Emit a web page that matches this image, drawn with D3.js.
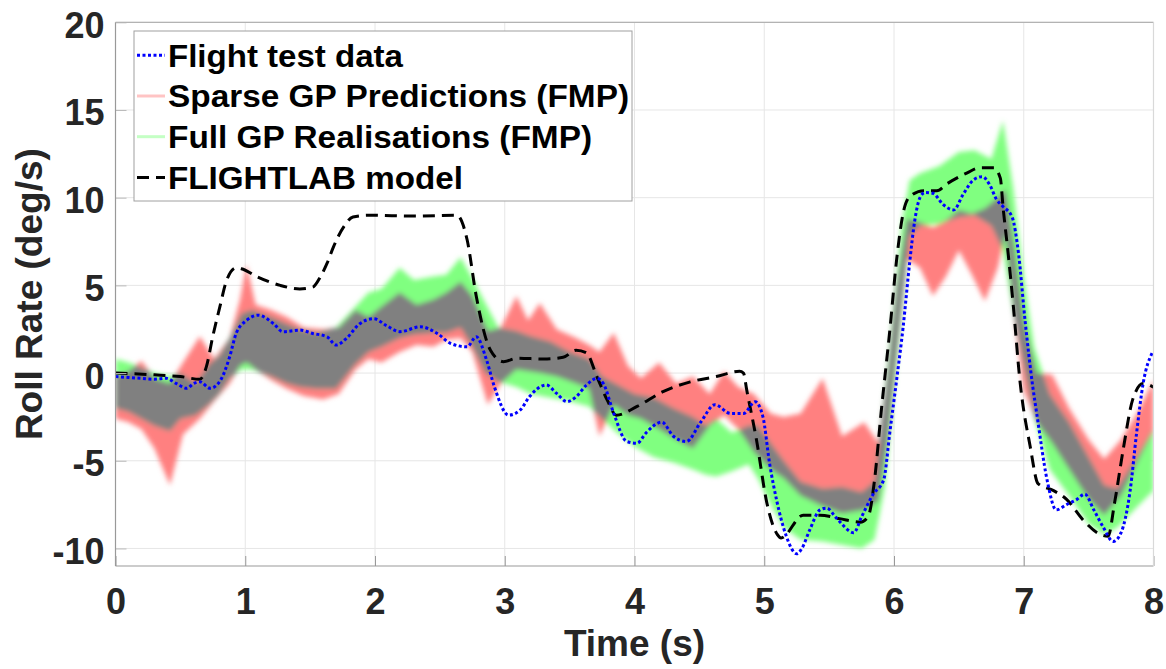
<!DOCTYPE html>
<html>
<head>
<meta charset="utf-8">
<script src="https://cdn.jsdelivr.net/npm/d3@7"></script>
<style>
  body { margin: 0; background: #fff; }
  svg { display: block; }
</style>
</head>
<body>
<svg id="chart" width="1166" height="669"></svg>
<script>
// ---- data -------------------------------------------------------------
const timeTicks = [0, 1, 2, 3, 4, 5, 6, 7, 8];
const rateTicks = [-10, -5, 0, 5, 10, 15, 20];

const legendLabels = [
  "Flight test data",
  "Sparse GP Predictions (FMP)",
  "Full GP Realisations (FMP)",
  "FLIGHTLAB model"
];

// flight test roll rate [time s, deg/s]
const flightTest = [
  [0.00,-0.2],[0.10,-0.25],[0.20,-0.3],[0.30,-0.35],[0.39,-0.3],[0.47,-0.6],[0.55,-0.87],
  [0.60,-0.6],[0.65,-0.5],[0.73,-0.87],[0.81,-0.4],[0.88,0.93],[0.93,2.26],[1.01,3.0],
  [1.10,3.3],[1.22,2.8],[1.29,2.36],[1.42,2.45],[1.52,2.26],[1.63,2.07],[1.70,1.6],
  [1.78,1.98],[1.88,2.8],[1.99,3.1],[2.09,2.7],[2.19,2.36],[2.35,2.64],[2.48,2.26],
  [2.58,1.7],[2.71,1.5],[2.78,2.07],[2.86,0.74],[2.92,-0.78],[3.03,-2.4],[3.12,-2.1],
  [3.19,-1.35],[3.32,-0.68],[3.40,-1.16],[3.48,-1.63],[3.55,-1.35],[3.63,-0.68],[3.71,-0.3],
  [3.76,-0.6],[3.84,-2.3],[3.94,-3.9],[4.02,-4.0],[4.09,-3.4],[4.21,-2.8],[4.30,-3.6],
  [4.40,-3.9],[4.51,-2.8],[4.62,-1.8],[4.74,-2.3],[4.84,-2.3],[4.93,-1.63],[4.99,-2.5],
  [5.04,-5.1],[5.10,-7.4],[5.17,-9.3],[5.25,-10.3],[5.29,-10.0],[5.35,-8.95],[5.43,-7.8],
  [5.48,-7.7],[5.56,-8.3],[5.69,-9.1],[5.75,-8.2],[5.84,-6.9],[5.92,-6.1],[5.97,-3.25],
  [6.02,-0.4],[6.07,2.6],[6.12,6.25],[6.16,8.7],[6.20,10.0],[6.24,10.3],[6.30,10.25],
  [6.38,9.6],[6.46,9.3],[6.53,10.15],[6.61,11.0],[6.68,11.2],[6.74,10.7],[6.79,9.9],
  [6.84,9.5],[6.91,8.9],[6.96,6.8],[7.01,3.0],[7.07,-0.8],[7.10,-2.3],[7.18,-6.1],
  [7.25,-7.8],[7.33,-7.5],[7.41,-7.2],[7.47,-6.9],[7.54,-7.8],[7.61,-8.75],[7.69,-9.6],
  [7.75,-9.1],[7.82,-6.7],[7.87,-3.4],[7.92,-0.6],[7.99,1.15]
];

// FLIGHTLAB simulation [time s, deg/s]
const flightlabModel = [
  [0.00,0.0],[0.30,-0.1],[0.50,-0.2],[0.65,-0.35],[0.70,0.35],[0.75,2.1],[0.805,3.8],
  [0.857,5.3],[0.93,6.0],[0.97,5.95],[1.09,5.5],[1.27,5.0],[1.42,4.8],[1.52,4.9],
  [1.58,5.5],[1.63,6.25],[1.68,7.2],[1.76,8.35],[1.83,8.9],[1.95,9.0],[2.30,8.95],
  [2.63,9.0],[2.71,7.6],[2.78,4.4],[2.89,1.3],[2.99,0.65],[3.10,0.85],[3.30,0.8],
  [3.45,0.9],[3.55,1.3],[3.63,1.15],[3.71,-0.2],[3.79,-1.54],[3.86,-2.4],[4.02,-1.9],
  [4.22,-1.06],[4.43,-0.5],[4.63,-0.2],[4.81,0.1],[4.84,0.0],[4.865,-0.97],[4.94,-3.8],
  [5.02,-7.4],[5.10,-9.2],[5.13,-9.4],[5.30,-8.1],[5.43,-8.1],[5.58,-8.3],[5.74,-8.5],
  [5.80,-8.2],[5.85,-6.1],[5.90,-2.3],[5.97,2.6],[6.02,6.45],[6.07,9.1],[6.12,10.05],
  [6.23,10.4],[6.33,10.4],[6.41,10.8],[6.56,11.4],[6.66,11.7],[6.77,11.7],[6.82,11.1],
  [6.84,9.5],[6.88,6.8],[6.92,3.8],[6.97,-0.4],[7.05,-4.2],[7.11,-6.3],[7.23,-6.7],
  [7.33,-7.2],[7.46,-8.4],[7.59,-9.2],[7.65,-9.3],[7.70,-7.4],[7.77,-4.2],[7.84,-1.5],
  [7.92,-0.6],[8.00,-0.8]
];

// sparse GP prediction envelope [time s, lower, upper]
const sparseGP = [
  [0.00,-2.6,-0.2],[0.10,-2.8,0.1],[0.20,-3.2,0.7],[0.30,-4.3,-0.3],[0.42,-6.4,-0.6],
  [0.52,-3.5,0.6],[0.65,-2.6,2.1],[0.76,-1.6,0.8],[0.88,-0.6,2.0],[0.96,0.4,4.2],
  [1.01,0.6,6.2],[1.08,0.2,3.9],[1.20,-0.4,3.6],[1.32,-0.9,3.2],[1.45,-1.3,2.6],
  [1.60,-1.5,2.5],[1.72,-1.2,2.6],[1.85,0.2,3.6],[1.95,0.8,3.2],[2.05,0.6,3.8],
  [2.19,1.2,4.6],[2.32,1.6,3.9],[2.45,1.5,4.2],[2.55,1.9,4.6],[2.66,2.0,5.2],
  [2.75,1.2,4.4],[2.87,-1.8,2.4],[2.97,-0.6,2.6],[3.09,0.2,4.4],[3.18,0.1,3.0],
  [3.27,0.0,4.0],[3.40,-0.2,2.5],[3.55,-0.6,2.0],[3.65,-0.9,1.6],[3.73,-3.6,1.2],
  [3.84,-1.8,2.3],[3.95,-2.4,0.4],[4.05,-2.6,-0.3],[4.19,-3.2,0.6],[4.32,-3.8,-0.6],
  [4.45,-4.3,-0.2],[4.58,-3.0,-1.2],[4.69,-2.4,0.1],[4.80,-3.2,-0.8],[4.92,-4.5,-1.2],
  [5.05,-5.5,-2.3],[5.15,-6.0,-2.5],[5.28,-7.0,-2.3],[5.45,-7.6,-0.3],[5.60,-8.0,-3.6],
  [5.77,-7.8,-2.8],[5.88,-7.3,-4.0],[5.95,-4.0,0.0],[6.02,1.0,5.0],[6.10,6.5,8.8],
  [6.20,6.0,8.6],[6.30,4.4,8.3],[6.40,5.5,8.7],[6.50,7.0,9.3],[6.60,5.6,9.1],
  [6.70,4.1,9.4],[6.80,6.0,10.0],[6.86,8.0,10.5],[6.93,3.0,7.0],[7.00,-1.0,3.0],
  [7.10,-2.8,0.0],[7.22,-4.0,-0.1],[7.35,-5.5,-2.0],[7.50,-7.2,-3.8],[7.62,-8.1,-4.9],
  [7.75,-7.0,-3.8],[7.88,-5.0,-2.2],[8.00,-3.3,-0.4]
];

// full GP realisation envelope [time s, lower, upper]
const fullGP = [
  [0.00,-2.0,0.8],[0.10,-2.2,0.6],[0.20,-2.6,0.3],[0.30,-3.0,0.0],[0.42,-3.3,-0.2],
  [0.50,-2.6,0.0],[0.62,-2.4,-0.6],[0.72,-1.8,0.5],[0.80,-1.2,1.0],[0.88,-0.3,2.0],
  [0.97,0.2,3.4],[1.05,0.2,3.6],[1.20,-0.2,3.2],[1.32,-0.6,2.8],[1.42,-0.8,2.5],
  [1.55,-0.9,2.3],[1.70,-0.9,2.6],[1.85,0.5,3.8],[1.95,1.2,4.6],[2.05,1.5,4.8],
  [2.19,2.0,6.0],[2.30,2.2,5.3],[2.45,2.3,5.5],[2.55,2.3,5.6],[2.66,2.6,6.6],
  [2.75,1.5,5.4],[2.85,0.0,4.0],[2.95,-0.5,2.6],[3.09,-0.8,2.4],[3.20,-1.2,2.1],
  [3.35,-1.4,1.8],[3.50,-1.6,1.2],[3.65,-1.9,0.8],[3.75,-2.6,-0.2],[3.85,-3.3,-0.6],
  [4.00,-4.2,-1.2],[4.15,-4.8,-1.4],[4.30,-5.1,-2.0],[4.45,-5.5,-2.5],[4.55,-5.8,-3.0],
  [4.63,-5.9,-2.6],[4.75,-5.6,-3.4],[4.88,-5.2,-3.0],[4.95,-6.0,-3.0],[5.05,-7.5,-4.0],
  [5.15,-8.8,-5.0],[5.28,-9.5,-6.2],[5.45,-9.6,-6.6],[5.60,-9.8,-6.5],[5.75,-10.0,-6.8],
  [5.85,-9.5,-6.2],[5.93,-6.5,-1.0],[6.00,-1.0,4.0],[6.06,3.5,8.5],[6.12,7.8,11.0],
  [6.20,8.4,11.4],[6.35,8.5,11.8],[6.50,8.9,12.6],[6.62,9.0,12.7],[6.75,8.4,12.2],
  [6.84,7.0,14.4],[6.92,3.5,10.5],[7.00,0.5,5.5],[7.08,-2.5,1.5],[7.20,-5.5,-1.2],
  [7.35,-7.0,-2.8],[7.50,-8.6,-4.8],[7.62,-9.2,-6.4],[7.72,-8.8,-6.6],[7.85,-7.8,-5.0],
  [8.00,-6.7,-3.2]
];

// ---- layout -------------------------------------------------------------
const fontFamily = "'Liberation Sans', Arial, Helvetica, sans-serif";
const svg = d3.select("#chart");

const x = d3.scaleLinear().domain([0, 8]).range([115.5, 1153.5]);
const y = d3.scaleLinear().domain([-11, 20]).range([566, 22.3]);

const [x0, x1] = x.range();
const [yb, yt] = y.range();

const defs = svg.append("defs");
defs.append("clipPath").attr("id", "plotArea")
  .append("rect").attr("x", x0).attr("y", yt).attr("width", x1 - x0).attr("height", yb - yt);

// soft edge for the GP envelopes
defs.append("filter").attr("id", "soft").attr("x", "-5%").attr("y", "-5%")
  .attr("width", "110%").attr("height", "110%")
  .append("feGaussianBlur").attr("stdDeviation", 2.4);

// grid
const grid = svg.append("g").attr("stroke", "#e6e6e6").attr("stroke-width", 1);
grid.selectAll("line.vx").data(timeTicks).join("line")
  .attr("x1", d => x(d)).attr("x2", d => x(d)).attr("y1", yt).attr("y2", yb);
grid.selectAll("line.hy").data(rateTicks).join("line")
  .attr("x1", x0).attr("x2", x1).attr("y1", d => y(d)).attr("y2", d => y(d));

// GP envelopes
const bandArea = d3.area()
  .x(d => x(d[0])).y0(d => y(d[1])).y1(d => y(d[2]))
  .curve(d3.curveLinear);

defs.append("clipPath").attr("id", "fullEnvelope")
  .append("path").attr("d", bandArea(fullGP));

const bands = svg.append("g").attr("clip-path", "url(#plotArea)")
  .append("g").attr("filter", "url(#soft)");
bands.append("path").attr("d", bandArea(sparseGP)).attr("fill", "#ff8080");
bands.append("path").attr("d", bandArea(fullGP)).attr("fill", "#80ff80");
// where both envelopes cover the same region they read as grey
bands.append("path").attr("d", bandArea(sparseGP)).attr("fill", "#808080")
  .attr("clip-path", "url(#fullEnvelope)");

// lines
const line = d3.line().x(d => x(d[0])).y(d => y(d[1])).curve(d3.curveMonotoneX);
const lines = svg.append("g").attr("clip-path", "url(#plotArea)").attr("fill", "none");
lines.append("path").attr("d", line(flightlabModel))
  .attr("stroke", "#000").attr("stroke-width", 3).attr("stroke-dasharray", "12 7");
lines.append("path").attr("d", line(flightTest))
  .attr("stroke", "#0000ff").attr("stroke-width", 3).attr("stroke-dasharray", "3 2.5");

// axes
const tickText = sel => sel
  .attr("font-family", fontFamily).attr("font-weight", "bold")
  .attr("font-size", 36).attr("fill", "#262626");

const gx = svg.append("g").attr("transform", `translate(0,${yb})`)
  .call(d3.axisBottom(x).tickValues(timeTicks).tickSizeInner(-10).tickSizeOuter(0)
    .tickFormat(d => String(d)));
gx.select(".domain").remove();
gx.selectAll(".tick line").attr("stroke", "#999");
gx.selectAll(".tick text").attr("y", 48).attr("dy", 0).call(tickText);

const gy = svg.append("g").attr("transform", `translate(${x0},0)`)
  .call(d3.axisLeft(y).tickValues(rateTicks).tickSizeInner(-11).tickSizeOuter(0)
    .tickFormat(d => String(d)));
gy.select(".domain").remove();
gy.selectAll(".tick line").attr("stroke", "#bbb");
gy.selectAll(".tick text").attr("x", -11).attr("dy", 15).call(tickText);

// axes box
const frame = svg.append("g").attr("stroke", "#999").attr("stroke-width", 1.2).attr("fill", "none");
frame.append("line").attr("x1", x0).attr("x2", x0).attr("y1", yt).attr("y2", yb);
frame.append("line").attr("x1", x0).attr("x2", x1).attr("y1", yb).attr("y2", yb);
frame.append("line").attr("x1", x0).attr("x2", x1).attr("y1", yt).attr("y2", yt).attr("stroke", "#b3b3b3");
frame.append("line").attr("x1", x1).attr("x2", x1).attr("y1", yt).attr("y2", yb).attr("stroke", "#d9d9d9");

// axis labels
svg.append("text").text("Time (s)")
  .attr("x", (x0 + x1) / 2).attr("y", 656).attr("text-anchor", "middle")
  .attr("font-family", fontFamily).attr("font-weight", "bold").attr("font-size", 37).attr("fill", "#262626");
svg.append("text").text("Roll Rate (deg/s)")
  .attr("transform", `translate(42,${(yt + yb) / 2}) rotate(-90)`).attr("text-anchor", "middle")
  .attr("font-family", fontFamily).attr("font-weight", "bold").attr("font-size", 37).attr("fill", "#262626");

// legend
const legend = svg.append("g");
legend.append("rect").attr("x", 134).attr("y", 31).attr("width", 498).attr("height", 170)
  .attr("fill", "#fff").attr("stroke", "#a0a0a0").attr("stroke-width", 1);
const rowY = [55.3, 96, 136.7, 177.5];
const rowWidth = [235, 461, 424, 295];
const swatch = [
  {stroke: "#0000ff", dash: "3 2.5"},
  {stroke: "#ffc4c4", dash: null},
  {stroke: "#c4ffc4", dash: null},
  {stroke: "#000", dash: "12 7"}
];
legendLabels.forEach((label, i) => {
  legend.append("line").attr("x1", 137).attr("x2", 165).attr("y1", rowY[i]).attr("y2", rowY[i])
    .attr("stroke", swatch[i].stroke).attr("stroke-width", 3)
    .attr("stroke-dasharray", swatch[i].dash);
  legend.append("text").text(label)
    .attr("x", 168).attr("y", rowY[i] + 11.2)
    .attr("textLength", rowWidth[i]).attr("lengthAdjust", "spacingAndGlyphs")
    .attr("font-family", fontFamily).attr("font-weight", "bold").attr("font-size", 31).attr("fill", "#000");
});
</script>
</body>
</html>
